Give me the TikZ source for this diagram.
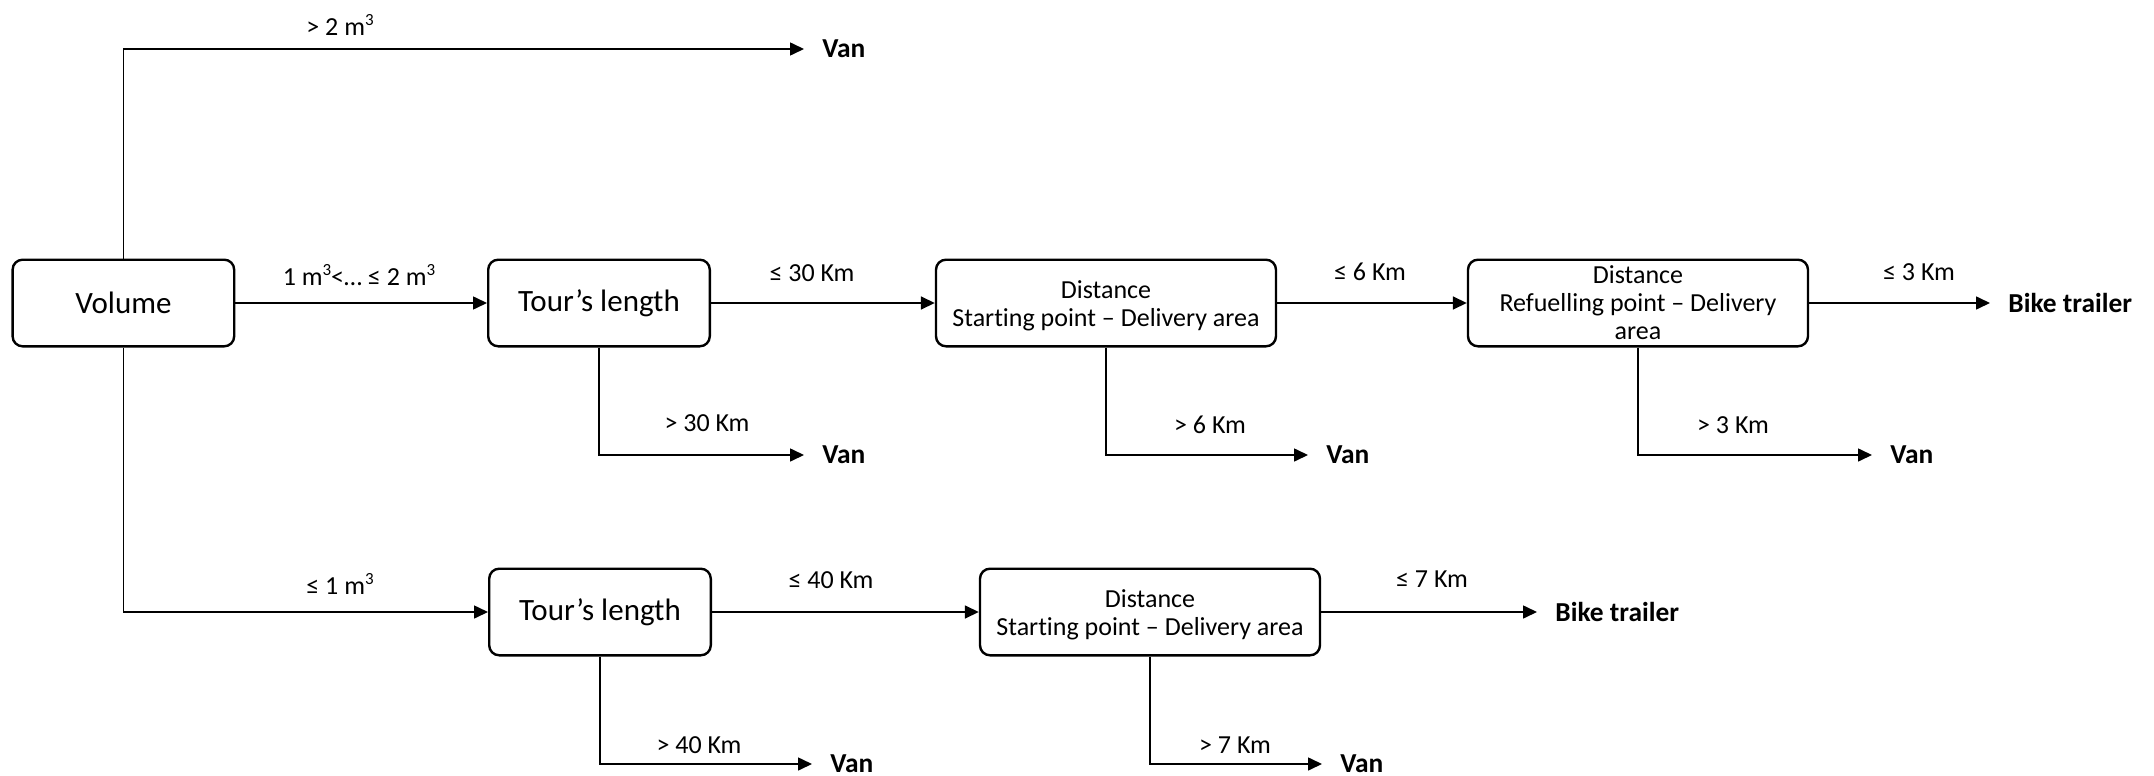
\documentclass[tikz,border=0pt]{standalone}
\usepackage{fontspec}
\setmainfont{Carlito}[Ligatures=NoCommon]
\usetikzlibrary{arrows.meta}
\newcommand{\mycube}{\raisebox{0.75ex}{\fontsize{8.5}{9}\selectfont 3}}
\begin{document}
\begin{tikzpicture}[x=0.5pt,y=-0.5pt,
  box/.style={draw, line width=1.2pt, rounded corners=5pt, align=center, inner sep=0pt},
  bigbox/.style={box, minimum width=110.8pt, minimum height=43.3pt, font=\fontsize{15.5}{18}\selectfont},
  distbox/.style={box, minimum width=170pt, minimum height=43.3pt, font=\fontsize{13}{14}\selectfont},
  conn/.style={line width=0.8pt},
  arr/.style={conn, -{Triangle[length=7pt,width=6.5pt]}},
  outcome/.style={anchor=west, inner xsep=9pt, inner ysep=0pt, font=\fontsize{13.7}{16}\selectfont\bfseries},
  lbl/.style={font=\fontsize{13}{15}\selectfont, inner sep=0pt}]
\useasboundingbox (0,0) rectangle (2154,776);

% decision boxes
\node[bigbox] (vol) at (123.4,303) {Volume};
\node[bigbox] (tl1) at (599,303) {Tour’s length};
\node[distbox] (d1) at (1106,303) {\rule{0pt}{12pt}Distance\\Starting point – Delivery area};
\node[distbox] (d2) at (1638,303) {Distance\\Refuelling point – Delivery\\area};
\node[bigbox] (tl2) at (600,612) {Tour’s length};
\node[distbox] (d3) at (1150,612) {\rule{0pt}{12pt}Distance\\Starting point – Delivery area};

% outcomes
\node[outcome] (van0) at (804,49) {Van};
\node[outcome] (van1) at (804,455) {Van};
\node[outcome] (van2) at (1308,455) {Van};
\node[outcome] (bike1) at (1990,303) {Bike trailer};
\node[outcome] (van3) at (1872,455) {Van};
\node[outcome] (van4) at (812,764) {Van};
\node[outcome] (bike2) at (1537,612) {Bike trailer};
\node[outcome] (van5) at (1322,764) {Van};

% connectors
\draw[arr] (vol.north) |- (van0.west);
\draw[arr] (vol.east) -- (tl1.west);
\draw[arr] (tl1.south) |- (van1.west);
\draw[arr] (tl1.east) -- (d1.west);
\draw[arr] (d1.south) |- (van2.west);
\draw[arr] (d1.east) -- (d2.west);
\draw[arr] (d2.east) -- (bike1.west);
\draw[arr] (d2.south) |- (van3.west);
\draw[arr] (vol.south) |- (tl2.west);
\draw[arr] (tl2.south) |- (van4.west);
\draw[arr] (tl2.east) -- (d3.west);
\draw[arr] (d3.east) -- (bike2.west);
\draw[arr] (d3.south) |- (van5.west);

% labels
\node[lbl] (l1) at (340,25) {> 2 m\mycube};
\node[lbl] (l2) at (359,275) {1 m\mycube<… ≤ 2 m\mycube};
\node[lbl] (l3) at (812,273) {≤ 30 Km};
\node[lbl] (l4) at (707,423) {> 30 Km};
\node[lbl] (l5) at (1370,272) {≤ 6 Km};
\node[lbl] (l6) at (1210,425) {> 6 Km};
\node[lbl] (l7) at (1919,272) {≤ 3 Km};
\node[lbl] (l8) at (1733,425) {> 3 Km};
\node[lbl] (l9) at (340,584) {≤ 1 m\mycube};
\node[lbl] (l10) at (831,580) {≤ 40 Km};
\node[lbl] (l11) at (699,745) {> 40 Km};
\node[lbl] (l12) at (1432,579) {≤ 7 Km};
\node[lbl] (l13) at (1235,745) {> 7 Km};
\end{tikzpicture}
\end{document}
